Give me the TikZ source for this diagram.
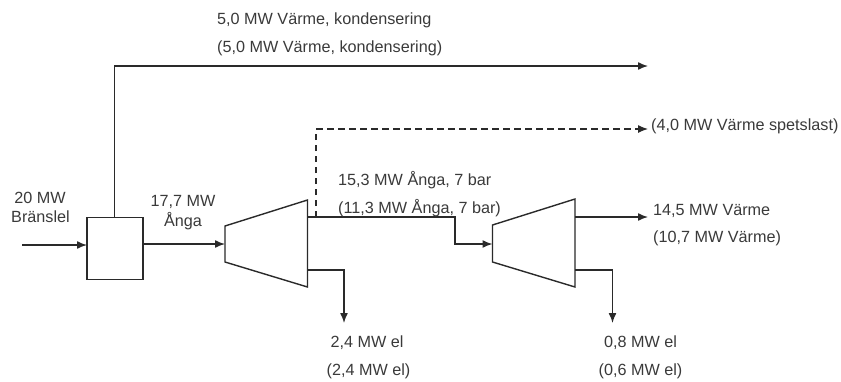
\documentclass[tikz,border=0pt]{standalone}
\usepackage{fontspec}
\setmainfont{Liberation Sans}
\usetikzlibrary{arrows.meta}
\definecolor{ink}{HTML}{2A2A2A}
\definecolor{txt}{HTML}{3A3A3A}
\tikzset{
  lbl/.style={inner sep=0pt,anchor=west,text=txt,font=\fontsize{16.2}{18}\selectfont},
  clbl/.style={inner sep=0pt,anchor=center,text=txt,font=\fontsize{16.2}{18}\selectfont},
  flow/.style={draw=ink,line width=1.4pt,-{Latex[length=10pt,width=8pt]}},
  dashflow/.style={flow,line width=1.2pt,dash pattern=on 6.5pt off 4.5pt},
  unit/.style={draw=ink,line width=1.4pt,line join=miter}
}
\begin{document}
\begin{tikzpicture}[x=1pt,y=-1pt]
\useasboundingbox (0,0) rectangle (841,381);
% boiler
\node[unit,minimum width=56pt,minimum height=62pt,inner sep=0pt] (box) at (115,248.5) {};
% turbine 1
\coordinate (t1a) at (225,226);
\coordinate (t1b) at (307.5,200);
\coordinate (t1c) at (307.5,287);
\coordinate (t1d) at (225,262);
\draw[unit] (t1a) -- (t1b) -- (t1c) -- (t1d) -- cycle;
% turbine 2
\coordinate (t2a) at (492.5,225);
\coordinate (t2b) at (575,199);
\coordinate (t2c) at (575,287);
\coordinate (t2d) at (492.5,262);
\draw[unit] (t2a) -- (t2b) -- (t2c) -- (t2d) -- cycle;
% free ends and junctions
\coordinate (in) at (22,245);
\coordinate (boxin) at (87,245);
\coordinate (boxout) at (143,244);
\coordinate (t1in) at (225,244);
\coordinate (boxtop) at (114.5,217.5);
\coordinate (top1) at (114.5,66);
\coordinate (top2) at (648,66);
\coordinate (t1out) at (307.5,217);
\coordinate (bend1) at (455,217);
\coordinate (bend2) at (455,244);
\coordinate (t2in) at (492.5,244);
\coordinate (dash0) at (316,217);
\coordinate (dash1) at (316,129);
\coordinate (dash2) at (648,129);
\coordinate (t2out) at (575,217);
\coordinate (heat) at (648,217);
\coordinate (e1a) at (307.5,270);
\coordinate (e1b) at (344,270);
\coordinate (e1c) at (344,323);
\coordinate (e2a) at (575,270);
\coordinate (e2b) at (612.5,270);
\coordinate (e2c) at (612.5,323);
% connectors
\draw[flow] (in) -- (boxin);
\draw[flow] (boxout) -- (t1in);
\draw[flow] (boxtop) -- (top1) -- (top2);
\draw[flow] (t1out) -- (bend1) -- (bend2) -- (t2in);
\draw[dashflow] (dash0) -- (dash1) -- (dash2);
\draw[flow] (t2out) -- (heat);
\draw[flow] (e1a) -- (e1b) -- (e1c);
\draw[flow] (e2a) -- (e2b) -- (e2c);
% labels
\node[lbl] (l1) at (217,20.5) {5,0 MW Värme, kondensering};
\node[lbl] (l2) at (217,48) {(5,0 MW Värme, kondensering)};
\node[lbl] (l3) at (651,126) {(4,0 MW Värme spetslast)};
\node[lbl] (l4) at (338,180) {15,3 MW Ånga, 7 bar};
\node[lbl] (l5) at (338,208) {(11,3 MW Ånga, 7 bar)};
\node[lbl] (l6) at (653,211) {14,5 MW Värme};
\node[lbl] (l7) at (653,238) {(10,7 MW Värme)};
\node[clbl] (l8) at (367,343) {2,4 MW el};
\node[clbl] (l9) at (368.5,371) {(2,4 MW el)};
\node[clbl] (l10) at (640.5,343) {0,8 MW el};
\node[clbl] (l11) at (640.5,371) {(0,6 MW el)};
\node[clbl] (l12) at (40,198) {20 MW};
\node[clbl] (l13) at (40.5,217) {Bränslel};
\node[clbl] (l14) at (183,202) {17,7 MW};
\node[clbl] (l15) at (183,221) {Ånga};
\end{tikzpicture}
\end{document}
